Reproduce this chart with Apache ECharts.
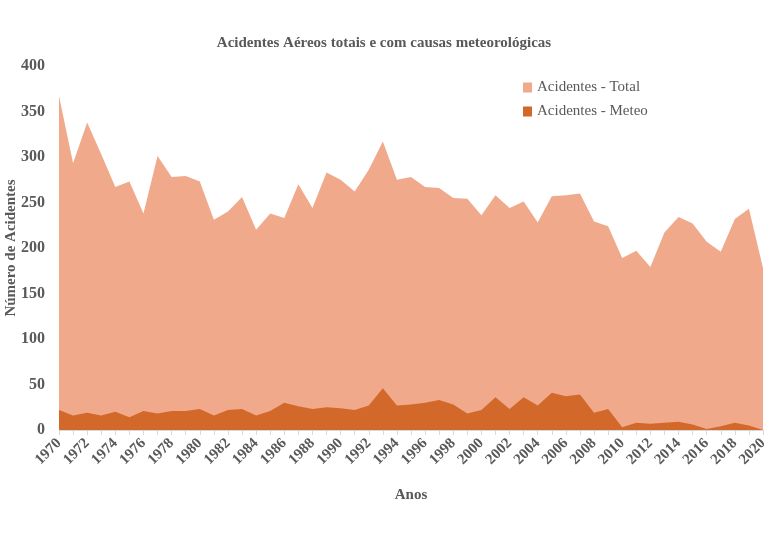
<!DOCTYPE html>
<html>
<head>
<meta charset="utf-8">
<script src="https://cdn.jsdelivr.net/npm/echarts@6/dist/echarts.min.js"></script>
<style>html,body{margin:0;padding:0;background:#fff}#c{width:768px;height:540px}</style>
</head>
<body>
<div id="c"></div>
<script>
const years = [];
for (let y = 1970; y <= 2020; y++) years.push(String(y));
const total = [367,293,338,303,267,273,238,301,278,279,273,231,240,256,220,238,233,
  270,244,283,275,262,286,317,275,278,267,266,255,254,236,258,244,251,228,257,258,260,
  229,224,189,197,179,217,234,227,207,196,232,243,178];
const meteo = [22,16,19,16,20,14,21,18,21,21,23,16,22,23,16,21,30,
  26,23,25,24,22,27,46,27,28,30,33,28,18,22,36,23,36,27,41,37,39,
  19,23,3,8,7,8,9,6,1,4,8,5,0];
const titleText = 'Acidentes Aéreos totais e com causas meteorológicas';
const serif = '"Liberation Serif", "DejaVu Serif", serif';
const chart = echarts.init(document.getElementById('c'), null, {renderer: 'canvas'});
chart.setOption({
  animation: false,
  backgroundColor: '#fff',
  title: {
    text: titleText, left: 'center', top: 31,
    textStyle: {fontFamily: serif, fontSize: 15, fontWeight: 'bold', color: '#595959'}
  },
  legend: {
    orient: 'vertical', left: 518, top: 75, itemGap: 9,
    itemWidth: 9, itemHeight: 10, icon: 'rect',
    textStyle: {fontFamily: serif, fontSize: 15, color: '#595959'},
    data: ['Acidentes - Total', 'Acidentes - Meteo']
  },
  grid: {left: 59, right: 5, top: 66, bottom: 110, containLabel: false, outerBoundsMode: 'none'},
  xAxis: {
    type: 'category', data: years, boundaryGap: false,
    name: 'Anos', nameLocation: 'middle', nameGap: 58, nameMoveOverlap: false,
    nameTextStyle: {fontFamily: serif, fontSize: 15, fontWeight: 'bold', color: '#595959'},
    axisLine: {lineStyle: {color: '#d9d9d9'}},
    axisTick: {show: true, interval: 0, length: 5, lineStyle: {color: '#d9d9d9'}},
    axisLabel: {interval: 1, rotate: 45, margin: 11, fontFamily: serif, fontSize: 15, fontWeight: 'bold', color: '#595959'}
  },
  yAxis: {
    type: 'value', min: 0, max: 400, interval: 50,
    name: 'Número de Acidentes', nameLocation: 'middle', nameGap: 40, nameRotate: 90, nameMoveOverlap: false,
    nameTextStyle: {fontFamily: serif, fontSize: 15, fontWeight: 'bold', color: '#595959'},
    axisLine: {show: false}, axisTick: {show: false},
    splitLine: {show: false},
    axisLabel: {margin: 14, fontFamily: serif, fontSize: 16, fontWeight: 'bold', color: '#595959'}
  },
  series: [
    {name: 'Acidentes - Total', type: 'line', data: total, symbol: 'none',
     lineStyle: {width: 0}, itemStyle: {color: '#F0A98B'}, areaStyle: {color: '#F0A98B', opacity: 1}},
    {name: 'Acidentes - Meteo', type: 'line', data: meteo, symbol: 'none',
     lineStyle: {width: 0}, itemStyle: {color: '#D2692A'}, areaStyle: {color: '#D2692A', opacity: 1}}
  ]
});
</script>
</body>
</html>
